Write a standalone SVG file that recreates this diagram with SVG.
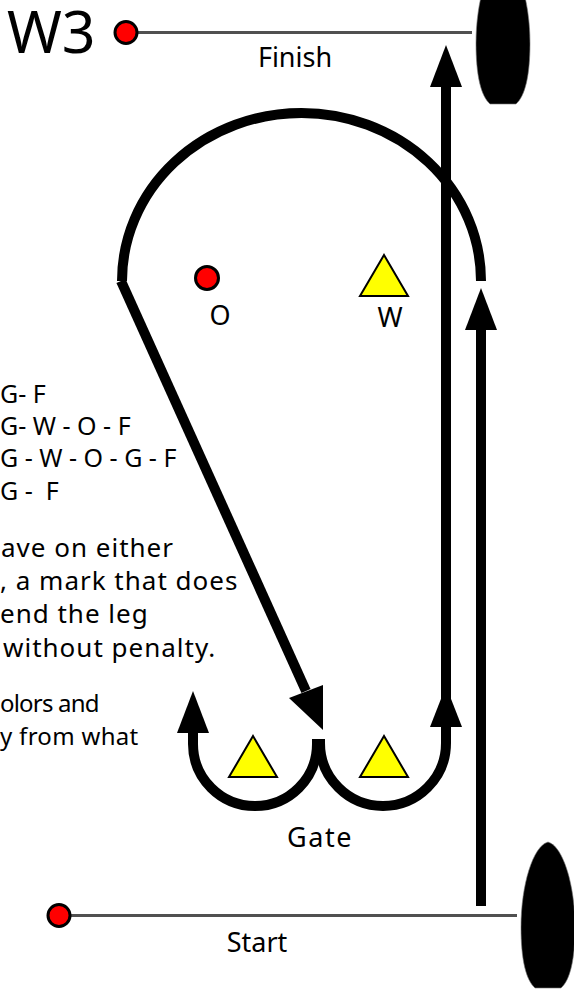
<svg xmlns="http://www.w3.org/2000/svg" width="574" height="994" viewBox="0 0 574 994">
<defs>
<style>
text{font-family:"Noto Sans","Open Sans",sans-serif;fill:#000}
.lbl{font-size:27px;text-anchor:middle}
.seq{font-size:25px}
.par{font-size:26px;letter-spacing:1px}
.par2{font-size:24px}
.trk{fill:none;stroke:#000;stroke-width:10;stroke-linecap:butt}
.head{fill:#000;stroke:none}
.line{stroke:#505050;stroke-width:3}
.red{fill:#ff0000;stroke:#000;stroke-width:3}
.tri{fill:#ffff00;stroke:#000;stroke-width:2;stroke-linejoin:miter}
.boat{fill:#000;stroke:#777;stroke-width:0.6}
</style>
<path id="boatShape" d="M 548 842 C 533 846 521 885 521 927 C 521 960 526 980 535 988 L 561 988 C 570 980 575 960 575 927 C 575 885 563 846 548 842 Z"/>
</defs>
<rect width="574" height="994" fill="#fff"/>

<g id="title"><text x="7" y="53" style="font-size:59px">W3</text></g>

<g id="finish-line">
<line class="line" x1="126" y1="32.5" x2="472" y2="32.5"/>
<circle class="red" cx="126" cy="32.5" r="11"/>
<text class="lbl" x="295" y="66.5">Finish</text>
</g>
<g id="finish-boat"><use href="#boatShape" class="boat" transform="translate(-45,-884)"/></g>

<g id="start-line">
<line class="line" x1="59" y1="915.5" x2="517" y2="915.5"/>
<circle class="red" cx="59" cy="915.5" r="11"/>
<text class="lbl" x="257" y="951.5">Start</text>
</g>
<g id="start-boat"><use href="#boatShape" class="boat"/></g>

<g id="mark-O">
<circle class="red" cx="207" cy="278" r="11.5"/>
<text class="lbl" x="220" y="325">O</text>
</g>
<g id="mark-W">
<polygon class="tri" points="384,255 360,296 408,296"/>
<text class="lbl" x="390" y="327">W</text>
</g>
<g id="gate">
<polygon class="tri" points="253,736 229,777 277,777"/>
<polygon class="tri" points="384,736 360,777 408,777"/>
<text class="lbl" x="320" y="846.5" style="letter-spacing:1.5px">Gate</text>
</g>

<g id="connectors">
<path class="trk" d="M 122 281 A 179.5 168 0 0 1 481 281"/>
<path class="trk" d="M 121 281 L 306 691"/>
<polygon class="head" points="323,730 289,698 323,685"/>
<path class="trk" d="M 481 906 L 481 328"/>
<polygon class="head" points="481,288 465,330 497,330"/>
<path class="trk" d="M 446 700 L 446 85"/>
<polygon class="head" points="446,45 430,87 462,87"/>
<path class="trk" d="M 193 731 L 193 744 A 62 62 0 0 0 317 744 L 317 739"/>
<polygon class="head" points="193,691 177,733 209,733"/>
<path class="trk" d="M 320 739 L 320 743 A 63 63 0 0 0 446 743 L 446 725"/>
<polygon class="head" points="446,686 430,727 462,727"/>
</g>

<g id="legend">
<text class="seq" x="0" y="403">G- F</text>
<text class="seq" x="0" y="435">G- W - O - F</text>
<text class="seq" x="0" y="467">G - W - O - G - F</text>
<text class="seq" x="0" y="500" xml:space="preserve">G -  F</text>
<text class="par" x="1" y="557">ave on either</text>
<text class="par" x="0" y="590">, a mark that does</text>
<text class="par" x="0" y="623">end the leg</text>
<text class="par" x="3" y="657">without penalty.</text>
<text class="par2" x="0" y="712" style="letter-spacing:-0.8px">olors and</text>
<text class="par2" x="0" y="745" style="letter-spacing:0.3px">y from what</text>
</g>
</svg>
